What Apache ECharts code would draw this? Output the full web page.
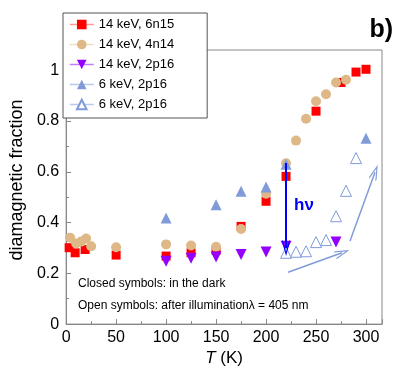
<!DOCTYPE html>
<html>
<head>
<meta charset="utf-8">
<script src="https://cdn.jsdelivr.net/npm/echarts@6/dist/echarts.min.js"></script>
<style>
html, body { margin: 0; padding: 0; background: #fff; }
#main { width: 411px; height: 372px; }
</style>
</head>
<body>
<div id="main"></div>
<script>
// legend names (the last one has a trailing space so both "6 keV" entries stay separate)
var seriesNames = ['14 keV, 6n15', '14 keV, 4n14', '14 keV, 2p16', '6 keV, 2p16', '6 keV, 2p16 '];

// [T (K), diamagnetic fraction]
var dark6n15 = [[3,0.301],[9,0.281],[19,0.294],[50,0.272],[100,0.268],[125,0.281],[150,0.291],
    [175,0.385],[200,0.484],[220,0.582],[250,0.839],[275,0.952],[290,0.993],[300,1.004]];
var dark4n14 = [[4,0.34],[10,0.318],[15,0.325],[20,0.337],[25,0.307],[50,0.303],[100,0.314],
    [125,0.31],[150,0.305],[175,0.375],[200,0.514],[220,0.634],[230,0.723],[240,0.809],
    [250,0.878],[260,0.906],[270,0.952],[280,0.963]];
var dark2p16 = [[100,0.248],[125,0.259],[150,0.264],[175,0.274],[200,0.284],[220,0.307],[270,0.323]];
var dark6keV = [[100,0.418],[150,0.47],[175,0.523],[200,0.54],[220,0.63],[300,0.732]];
var light6keV = [[220,0.281],[230,0.285],[240,0.287],[250,0.323],[260,0.331],[270,0.425],
    [280,0.525],[290,0.654]];

// arrows: [from, to]
var hvArrow = [[220,0.635],[220,0.30]];
var trendArrows = [
    [[222,0.204],[276,0.281]],
    [[284,0.327],[309,0.598]]
];

// open arrow head, tip up
var chevron = 'path://M5,0L10,9L9,10L5,2.6L1,10L0,9Z';

var myChart = echarts.init(document.getElementById('main'));

function makeSeries(i, data, symbol, size, fill, lineColor, extra) {
    var s = {
        name: seriesNames[i],
        type: 'line',
        data: data,
        symbol: symbol,
        symbolSize: size,
        showAllSymbol: true,
        itemStyle: { color: fill },
        lineStyle: { color: lineColor, width: 1.5, opacity: 0 },
        emphasis: { disabled: true },
        silent: true
    };
    for (var k in extra) s[k] = extra[k];
    return s;
}

var markLineData = [
    [{ coord: hvArrow[0], lineStyle: { color: '#0000ff', width: 2, type: 'solid' }, symbolSize: 10 }, { coord: hvArrow[1] }]
];
trendArrows.forEach(function (a) {
    markLineData.push([{ coord: a[0], lineStyle: { color: '#809cd8', width: 1.5, type: 'solid' }, symbolSize: 11 }, { coord: a[1] }]);
});

var font = 'Liberation Sans, Arial, sans-serif';

var option = {
    animation: false,
    textStyle: { fontFamily: font },
    grid: {
        left: 53, top: 50, right: 29, bottom: 47,
        show: true, borderColor: '#888', borderWidth: 1
    },
    legend: {
        orient: 'vertical',
        left: 63, top: 13,
        padding: [5, 33, 7, 6],
        backgroundColor: '#fff',
        borderColor: '#555',
        borderWidth: 1,
        borderRadius: 0,
        itemWidth: 24,
        itemHeight: 12,
        itemGap: 7,
        z: 10,
        textStyle: { fontSize: 13, color: '#000' },
        lineStyle: { opacity: 1, width: 1.5 },
        data: seriesNames
    },
    xAxis: {
        type: 'value',
        min: 0, max: 316, interval: 50,
        name: '{i|T} (K)',
        nameLocation: 'middle',
        nameGap: 25,
        nameTextStyle: {
            fontSize: 17, color: '#000',
            rich: { i: { fontStyle: 'italic', fontSize: 17, color: '#000' } }
        },
        axisLine: { lineStyle: { color: '#888' } },
        axisTick: { inside: true, length: 5, lineStyle: { color: '#888' } },
        minorTick: { show: true, splitNumber: 2, length: 3, lineStyle: { color: '#888' } },
        splitLine: { show: false },
        axisLabel: { fontSize: 16, color: '#000', margin: 5, showMaxLabel: false }
    },
    yAxis: {
        type: 'value',
        min: 0, max: 1.08, interval: 0.2,
        name: 'diamagnetic fraction',
        nameLocation: 'middle',
        nameGap: 30,
        nameTextStyle: { fontSize: 18, color: '#000', padding: [0, 0, 0, 14] },
        axisLine: { show: true, lineStyle: { color: '#888' } },
        axisTick: { show: true, inside: true, length: 5, lineStyle: { color: '#888' } },
        minorTick: { show: true, splitNumber: 2, length: 3, lineStyle: { color: '#888' } },
        splitLine: { show: false },
        axisLabel: { fontSize: 16, color: '#000', margin: 7, showMaxLabel: false }
    },
    series: [
        makeSeries(0, dark6n15, 'rect', 9, '#ff0000', '#ff9a9a', {}),
        makeSeries(1, dark4n14, 'circle', 10, '#deb887', '#f0dcc0', {}),
        makeSeries(2, dark2p16, 'triangle', 11, '#9400ff', '#c080ff', { symbolRotate: 180 }),
        makeSeries(3, dark6keV, 'triangle', 11, '#7f9bd8', '#b8c8ec', {}),
        makeSeries(4, light6keV, 'triangle', 11, '#ffffff', '#b8c8ec', {
            itemStyle: { color: '#ffffff', borderColor: '#7f9bd8', borderWidth: 1 },
            markLine: {
                silent: true,
                animation: false,
                symbol: ['none', chevron],
                label: { show: false },
                emphasis: { disabled: true },
                data: markLineData
            }
        })
    ],
    graphic: [
        {
            id: 'closed', type: 'text', left: 78, top: 278,
            style: { text: 'Closed symbols: in the dark', fontSize: 12, fill: '#000', fontFamily: font }
        },
        {
            id: 'open', type: 'text', left: 78, top: 300,
            style: { text: 'Open symbols: after illuminationλ = 405 nm', fontSize: 12, fill: '#000', fontFamily: font }
        },
        {
            id: 'panel', type: 'text', right: 18, top: 18,
            style: { text: 'b)', fontSize: 25, fontWeight: 'bold', fill: '#000', fontFamily: font }
        }
    ]
};

myChart.setOption(option);

// hν label next to the vertical arrow
var hvPos = myChart.convertToPixel({ gridIndex: 0 }, [238, 0.47]);
myChart.setOption({
    graphic: [{
        id: 'hv', type: 'text', x: hvPos[0], y: hvPos[1],
        style: { text: 'hν', fontSize: 17, fontWeight: 'bold', fill: '#0000ff', align: 'center',
            verticalAlign: 'middle', fontFamily: font }
    }]
});
</script>
</body>
</html>
